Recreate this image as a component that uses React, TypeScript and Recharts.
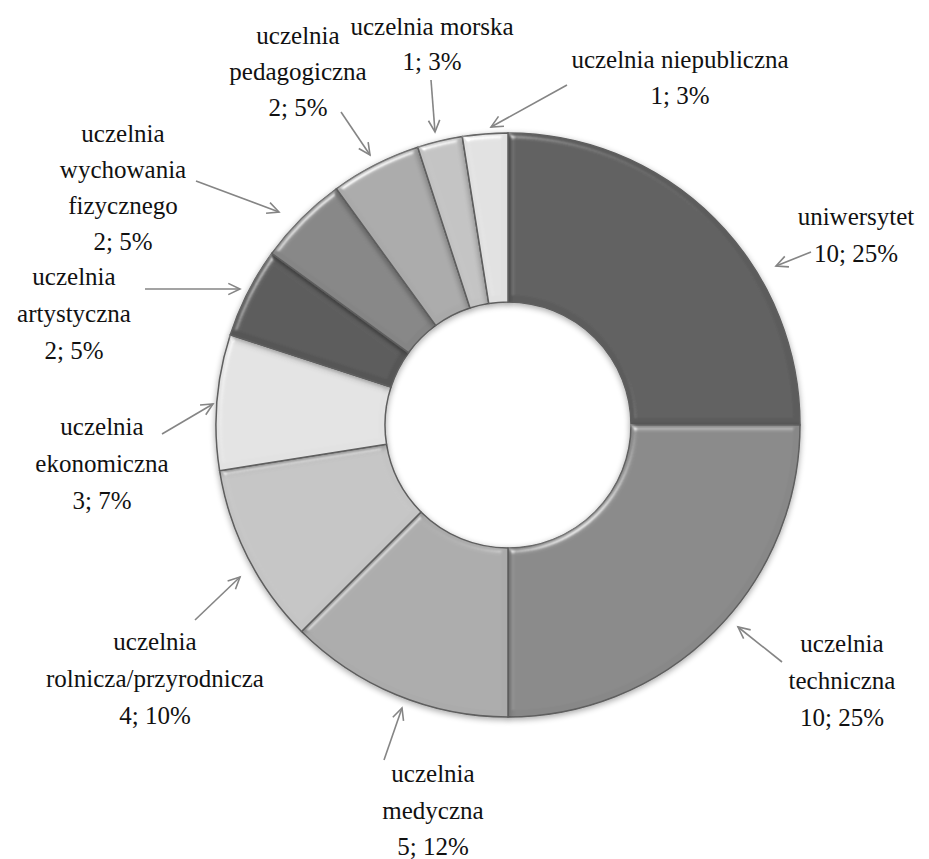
import React from "react";
import { PieChart, Pie, Cell } from "recharts";

const categories = [
  "uniwersytet",
  "uczelnia\ntechniczna",
  "uczelnia\nmedyczna",
  "uczelnia\nrolnicza/przyrodnicza",
  "uczelnia\nekonomiczna",
  "uczelnia\nartystyczna",
  "uczelnia\nwychowania\nfizycznego",
  "uczelnia\npedagogiczna",
  "uczelnia morska",
  "uczelnia niepubliczna",
];
const counts = [10, 10, 5, 4, 3, 2, 2, 2, 1, 1];
const percentLabels = ["25%", "25%", "12%", "10%", "7%", "5%", "5%", "5%", "3%", "3%"];
const colors = ["#5c5c5c", "#888888", "#ababab", "#c4c4c4", "#e2e2e2", "#575757", "#858585", "#a9a9a9", "#c2c2c2", "#e0e0e0"];

// label layout relative to pie centre: text centre (tx, first line ty), line height, arrow from (ax, ay) to (bx, by)
const labelLayout = [
  { tx: 348, ty: -208, lh: 37, ax: 303, ay: -173, bx: 268, by: -159 },
  { tx: 334, ty: 219, lh: 37, ax: 274, ay: 237, bx: 230, by: 202 },
  { tx: -75, ty: 349, lh: 36.5, ax: -124, ay: 335, bx: -106, by: 283 },
  { tx: -353, ty: 217, lh: 37, ax: -313, ay: 195, bx: -268, by: 152 },
  { tx: -406, ty: 2, lh: 37, ax: -346, ay: 9, bx: -295, by: -21 },
  { tx: -434, ty: -148, lh: 37, ax: -363, ay: -136, bx: -268, by: -136 },
  { tx: -385, ty: -291, lh: 36, ax: -312, ay: -244, bx: -229, by: -213 },
  { tx: -210, ty: -389, lh: 36, ax: -167, ay: -313, bx: -138, by: -270 },
  { tx: -76, ty: -398, lh: 35, ax: -77, ay: -345, bx: -73, by: -293 },
  { tx: 172, ty: -365, lh: 36, ax: 59, ay: -340, bx: -17, by: -298 },
];

const data = categories.map((name, i) => ({ name, value: counts[i], pct: percentLabels[i] }));

const FONT = "Liberation Serif, Tinos, Times New Roman, DejaVu Serif, serif";

function renderLabel(props: any) {
  const { cx, cy, index } = props;
  const L = labelLayout[index];
  const lines = [...categories[index].split("\n"), `${counts[index]}; ${percentLabels[index]}`];
  const x1 = cx + L.ax, y1 = cy + L.ay, x2 = cx + L.bx, y2 = cy + L.by;
  const ang = Math.atan2(y2 - y1, x2 - x1);
  const hl = 13, spread = 0.45;
  const h1x = x2 - hl * Math.cos(ang - spread), h1y = y2 - hl * Math.sin(ang - spread);
  const h2x = x2 - hl * Math.cos(ang + spread), h2y = y2 - hl * Math.sin(ang + spread);
  return (
    <g key={`lbl-${index}`}>
      <line x1={x1} y1={y1} x2={x2} y2={y2} stroke="#858585" strokeWidth={1.6} />
      <polyline points={`${h1x},${h1y} ${x2},${y2} ${h2x},${h2y}`} fill="none" stroke="#858585" strokeWidth={1.6} />
      {lines.map((t, j) => (
        <text
          key={j}
          x={cx + L.tx}
          y={cy + L.ty + j * L.lh + 8}
          textAnchor="middle"
          fontFamily={FONT}
          fontSize={25}
          fill="#111"
          style={{ fontFamily: FONT }}
        >
          {t}
        </text>
      ))}
    </g>
  );
}

export default function App() {
  return (
    <div style={{ position: "absolute", left: 0, top: 0, width: 929, height: 859, background: "#fff", fontFamily: FONT }}>
      <svg width={0} height={0} style={{ position: "absolute" }}>
        <defs>
          <filter id="bevel" x="-10%" y="-10%" width="120%" height="120%">
            <feGaussianBlur in="SourceAlpha" stdDeviation="3" result="blur" />
            <feSpecularLighting in="blur" surfaceScale="4" specularConstant="0.8" specularExponent="35" lightingColor="#ffffff" result="spec">
              <feDistantLight azimuth="235" elevation="40" />
            </feSpecularLighting>
            <feComposite in="spec" in2="SourceAlpha" operator="in" result="specOut" />
            <feComposite in="SourceGraphic" in2="specOut" operator="arithmetic" k1="0" k2="1" k3="0.6" k4="0" result="lit" />
            <feGaussianBlur in="SourceAlpha" stdDeviation="3" result="sblur" />
            <feOffset in="sblur" dx="0" dy="2" result="soff" />
            <feComponentTransfer in="soff" result="shadow">
              <feFuncA type="linear" slope="0.35" />
            </feComponentTransfer>
            <feMerge>
              <feMergeNode in="shadow" />
              <feMergeNode in="lit" />
            </feMerge>
          </filter>
        </defs>
      </svg>
      <PieChart width={929} height={859}>
        <Pie
          data={data}
          dataKey="value"
          nameKey="name"
          cx={503}
          cy={420}
          outerRadius={292}
          innerRadius={123}
          startAngle={90}
          endAngle={-270}
          stroke="#5e5e5e"
          strokeWidth={1.5}
          label={renderLabel}
          labelLine={false}
          isAnimationActive={false}
        >
          {data.map((d, i) => (
            <Cell key={i} fill={colors[i]} style={{ filter: "url(#bevel)" }} />
          ))}
        </Pie>
      </PieChart>
    </div>
  );
}
